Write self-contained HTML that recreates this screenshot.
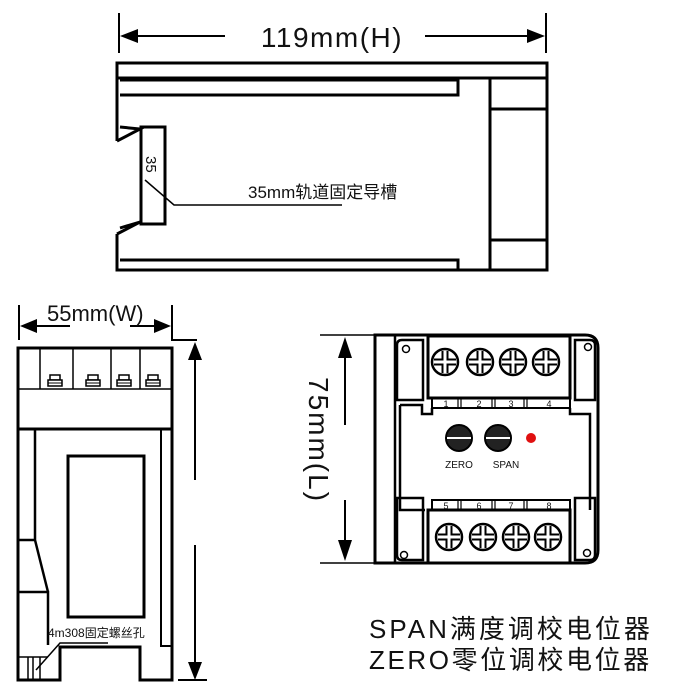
<!DOCTYPE html>
<html><head><meta charset="utf-8"><style>
html,body{margin:0;padding:0;background:#fff;}
svg{display:block;}
text{font-family:"Liberation Sans","Noto Sans CJK SC",sans-serif;fill:#111;}
</style></head><body>
<svg width="677" height="698" viewBox="0 0 677 698" xmlns="http://www.w3.org/2000/svg">
<defs>
<g id="screw"><circle r="13" fill="#fff" stroke="#000" stroke-width="2.5"/><path d="M-11,-2.5H-2.5V-11M2.5,-11V-2.5H11M11,2.5H2.5V11M-2.5,11V2.5H-11" fill="none" stroke="#000" stroke-width="2"/></g>
<g id="knob"><circle r="13" fill="#222" stroke="#000" stroke-width="2"/><line x1="-12" y1="0" x2="12" y2="0" stroke="#fff" stroke-width="2"/></g>
<g id="term"><rect x="-5" y="0" width="10" height="5" fill="#fff" stroke="#000" stroke-width="1.5"/><rect x="-7" y="5" width="14" height="6" fill="#fff" stroke="#000" stroke-width="1.5"/><line x1="-7" y1="8" x2="7" y2="8" stroke="#000" stroke-width="1"/></g>
</defs>
<g stroke="#000" fill="none" stroke-width="3">
<line x1="119" y1="13" x2="119" y2="53" stroke-width="2"/>
<line x1="546" y1="13" x2="546" y2="53" stroke-width="2"/>
<line x1="130" y1="36" x2="225" y2="36" stroke-width="2"/>
<line x1="425" y1="36" x2="535" y2="36" stroke-width="2"/>
<polygon points="120,36 138,29 138,43" fill="#000" stroke="none"/>
<polygon points="545,36 527,29 527,43" fill="#000" stroke="none"/>
<path d="M117,141 V63 H547 V270 H117 V234"/>
<path d="M118,78 H547"/>
<path d="M120,80 H458 V95 H120"/>
<path d="M120,260 H458 V270"/>
<rect x="490" y="78" width="57" height="192"/>
<line x1="490" y1="109" x2="547" y2="109"/>
<line x1="490" y1="240" x2="547" y2="240"/>
<path d="M117,141 L140,129 L120,127"/>
<path d="M117,234 L140,222 L120,228"/>
<rect x="141" y="127" width="24" height="97"/>
<path d="M145,180 L174,205 H342" stroke-width="1.5"/>
<line x1="19" y1="305" x2="19" y2="340" stroke-width="2"/>
<path d="M172,305 V340 H197" stroke-width="2"/>
<line x1="30" y1="326" x2="70" y2="326" stroke-width="2"/>
<line x1="130" y1="326" x2="162" y2="326" stroke-width="2"/>
<polygon points="20,326 37,319 37,333" fill="#000" stroke="none"/>
<polygon points="171,326 154,319 154,333" fill="#000" stroke="none"/>
<path d="M18,348 H172 V680 H140 V647 H60 V680 H18 Z"/>
<line x1="18" y1="389" x2="172" y2="389" stroke-width="1.5"/>
<line x1="18" y1="429" x2="172" y2="429"/>
<g stroke-width="1.5"><line x1="40" y1="348" x2="40" y2="389"/><line x1="73" y1="348" x2="73" y2="389"/><line x1="111" y1="348" x2="111" y2="389"/><line x1="140" y1="348" x2="140" y2="389"/></g>
<path d="M35,429 V540 M18,540 H35 L48,592 M18,592 H48 V645" stroke-width="2.5"/>
<path d="M161,429 V646 H172" stroke-width="2"/>
<rect x="68" y="456" width="76" height="161"/>
<g stroke-width="1.5"><line x1="28" y1="657" x2="28" y2="680"/><line x1="33" y1="657" x2="33" y2="680"/><line x1="40" y1="657" x2="40" y2="680"/><line x1="18" y1="657" x2="48" y2="657"/><path d="M36,670 L60,643 H108"/></g>
<line x1="195" y1="350" x2="195" y2="480" stroke-width="2"/>
<line x1="195" y1="545" x2="195" y2="670" stroke-width="2"/>
<polygon points="195,342 188,360 202,360" fill="#000" stroke="none"/>
<polygon points="195,680 188,662 202,662" fill="#000" stroke="none"/>
<line x1="178" y1="680" x2="207" y2="680" stroke-width="2"/>
<line x1="320" y1="335" x2="375" y2="335" stroke-width="1.5"/>
<line x1="320" y1="563" x2="375" y2="563" stroke-width="1.5"/>
<line x1="345" y1="350" x2="345" y2="425" stroke-width="2"/>
<line x1="345" y1="500" x2="345" y2="548" stroke-width="2"/>
<polygon points="345,337 338,358 352,358" fill="#000" stroke="none"/>
<polygon points="345,561 338,540 352,540" fill="#000" stroke="none"/>
<path d="M375,335 H585 Q598,335 598,348 V550 Q598,563 585,563 H375 Z"/>
<line x1="395" y1="336" x2="395" y2="562" stroke-width="2.5"/>
<path d="M397,345 Q397,340 402,340 H423 V400 H397 Z" stroke-width="2.5"/>
<path d="M575,340 H590 Q595,340 595,345 V400 H575 Z" stroke-width="2.5"/>
<path d="M397,498 H423 V560 H402 Q397,560 397,555 Z" stroke-width="2.5"/>
<path d="M575,498 H595 V555 Q595,560 590,560 H575 Z" stroke-width="2.5"/>
<rect x="428" y="336" width="142" height="62"/>
<rect x="428" y="510" width="142" height="53"/>
<path d="M400,405 H422 V414 H432 V408 M570,408 V414 H590 V510 M400,405 V510 H425" stroke-width="2.5"/>
<path d="M432,398 V408 H570 V398" stroke-width="2"/>
<path d="M432,510 V500 H570 V510" stroke-width="2"/>
<g stroke-width="1.2"><path d="M458,398V408M461,398V408M492,398V408M495,398V408M524,398V408M527,398V408M458,500V510M461,500V510M492,500V510M495,500V510M524,500V510M527,500V510"/></g>
<circle cx="406" cy="349" r="3.5" stroke-width="1.5"/>
<circle cx="588" cy="347" r="3.5" stroke-width="1.5"/>
<circle cx="404" cy="555" r="3.5" stroke-width="1.5"/>
<circle cx="587" cy="553" r="3.5" stroke-width="1.5"/>
</g>
<g transform="translate(0,375)"><use href="#term" x="55"/><use href="#term" x="93"/><use href="#term" x="124"/><use href="#term" x="153"/></g>
<g transform="translate(0,362)"><use href="#screw" x="445"/><use href="#screw" x="480"/><use href="#screw" x="513"/><use href="#screw" x="546"/></g>
<g transform="translate(0,537)"><use href="#screw" x="449"/><use href="#screw" x="483"/><use href="#screw" x="516"/><use href="#screw" x="548"/></g>
<use href="#knob" x="459" y="438"/>
<use href="#knob" x="498" y="438"/>
<circle cx="531" cy="438" r="5" fill="#e01010"/>
<g font-size="9" text-anchor="middle"><text x="446" y="407">1</text><text x="479" y="407">2</text><text x="511" y="407">3</text><text x="549" y="407">4</text>
<text x="446" y="509">5</text><text x="479" y="509">6</text><text x="511" y="509">7</text><text x="549" y="509">8</text></g>
<text x="459" y="468" font-size="10" text-anchor="middle">ZERO</text>
<text x="506" y="468" font-size="10" text-anchor="middle">SPAN</text>
<text x="332" y="47" font-size="28" text-anchor="middle" letter-spacing="1.5">119mm(H)</text>
<text x="248" y="198" font-size="17">35mm轨道固定导槽</text>
<text transform="translate(146,156) rotate(90)" font-size="15">35</text>
<text x="47" y="321" font-size="22">55mm(W)</text>
<text x="48" y="637" font-size="12">4m308固定螺丝孔</text>
<text transform="translate(309,377) rotate(90)" font-size="28" letter-spacing="2">75mm(L)</text>
<text x="369" y="638" font-size="26" letter-spacing="3">SPAN满度调校电位器</text>
<text x="369" y="669" font-size="26" letter-spacing="2.6">ZERO零位调校电位器</text>
</svg>
</body></html>
